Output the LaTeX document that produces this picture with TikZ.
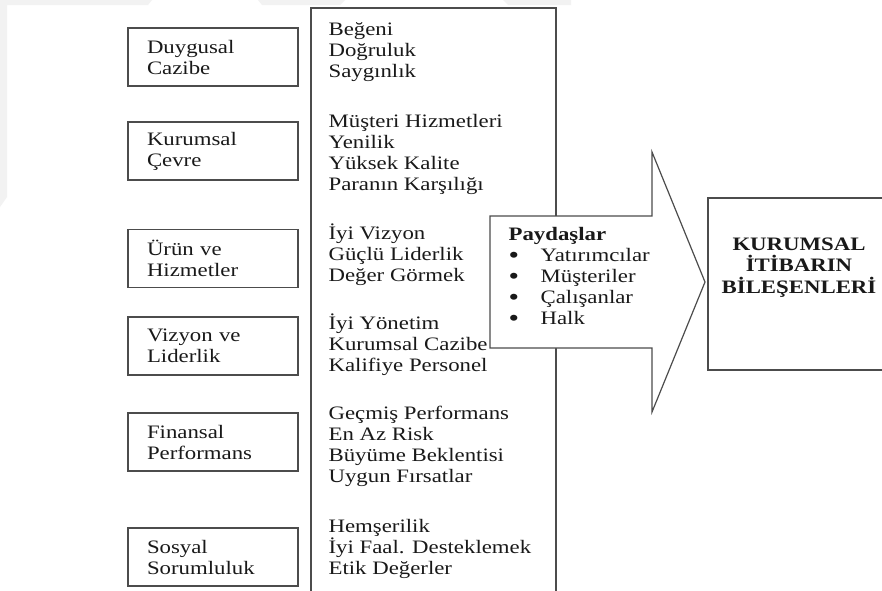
\documentclass[tikz,border=0pt]{standalone}
\usepackage{fontspec}
\setmainfont{Liberation Serif}[FakeStretch=1.2]
\newcommand{\madde}{\makebox[32pt][l]{\raisebox{-2pt}[0pt][0pt]{\fontsize{25pt}{21pt}\selectfont •}}}

\begin{document}
\begin{tikzpicture}[x=1pt, y=-1pt, line width=1.2pt]
\tikzstyle{every node}=[font=\fontsize{19pt}{21pt}\selectfont, text=black!90];
\tikzstyle{kutu}=[draw=black!70, align=left, text width=132pt, inner xsep=19pt, minimum height=58pt];
\tikzstyle{liste}=[anchor=base west, align=left, inner sep=0pt]; % base = last line
\tikzstyle{cizgi}=[draw=black!70];
\path[use as bounding box, clip] (0,0) rectangle (882,590);
\fill[white] (0,0) rectangle (882,590);
% faint watermark along the top
\fill[gray!10] (0,0) -- (152,0) -- (148,5) -- (7,5) -- (7,197) -- (0,207) -- cycle;
\fill[gray!10] (258,0) -- (345,0) -- (340,5) -- (262,5) -- cycle;
\fill[gray!10] (503,0) -- (571,0) -- (571,5) -- (508,5) -- cycle;
% left boxes
\node[kutu] (duygu) at (213,57) {Duygusal\\Cazibe};
\node[kutu] (cevre) at (213,151) {Kurumsal\\Çevre};
\node[kutu] (urun) at (213,258.5) {Ürün ve\\Hizmetler};
\node[kutu] (vizyon) at (213,346) {Vizyon ve\\Liderlik};
\node[kutu] (finans) at (213,442) {Finansal\\Performans};
\node[kutu] (sosyal) at (213,557) {Sosyal\\Sorumluluk};
% tall box and the arrow over it
\draw[cizgi] (311,600) -- (311,8) -- (556,8) -- (556,600);
\filldraw[cizgi, fill=white] (490,216) -- (652,216) -- (652,152) -- (705,282)
  -- (652,412) -- (652,348) -- (490,348) -- cycle;
\node[liste] (g1) at (328,77.5) {Beğeni\\Doğruluk\\Saygınlık};
\node[liste] (g2) at (328,190.5) {Müşteri Hizmetleri\\Yenilik\\Yüksek Kalite\\Paranın Karşılığı};
\node[liste] (g3) at (328,281.5) {İyi Vizyon\\Güçlü Liderlik\\Değer Görmek};
\node[liste] (g4) at (328,371.5) {İyi Yönetim\\Kurumsal Cazibe\\Kalifiye Personel};
\node[liste] (g5) at (328,482.5) {Geçmiş Performans\\En Az Risk\\Büyüme Beklentisi\\Uygun Fırsatlar};
\node[liste] (g6) at (328,574.5) {Hemşerilik\\İyi Faal. Desteklemek\\Etik Değerler};
\node[liste] (paydas) at (508,324) {\textbf{Paydaşlar}\\
  \madde Yatırımcılar\\
  \madde Müşteriler\\
  \madde Çalışanlar\\
  \madde Halk};
% result box
\draw[cizgi] (900,198) -- (708,198) -- (708,370) -- (900,370);
\node[anchor=base, align=center, inner sep=0pt, font=\fontsize{19pt}{21.5pt}\selectfont\bfseries] (sonuc) at (799,293)
  {KURUMSAL\\İTİBARIN\\BİLEŞENLERİ};
\end{tikzpicture}
\end{document}
